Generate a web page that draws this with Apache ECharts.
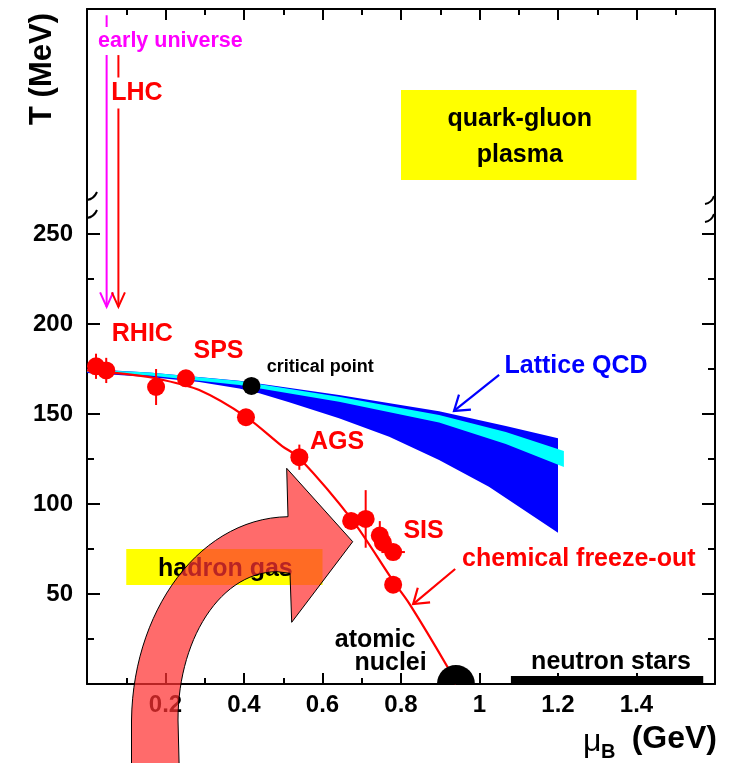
<!DOCTYPE html>
<html>
<head>
<meta charset="utf-8">
<script src="https://cdn.jsdelivr.net/npm/echarts@6/dist/echarts.min.js"></script>
<style>
  html, body { margin: 0; padding: 0; background: #fff; }
  #chart { width: 731px; height: 763px; }
</style>
</head>
<body>
<div id="chart"></div>
<script>
// ---- Axis ticks ----
const muMajorTicks = [0.2, 0.4, 0.6, 0.8, 1, 1.2, 1.4];
const muMinorTicks = [0.1, 0.3, 0.5, 0.7, 0.9, 1.1, 1.3, 1.5];
const tMajorTicks = [50, 100, 150, 200, 250];
const tMinorTicks = [25, 75, 125, 175, 225];

// ---- Chemical freeze-out points: mu_B (GeV), T (MeV), errors ----
const freezeMu    = [0.023, 0.049, 0.176, 0.252, 0.405, 0.541, 0.673, 0.710, 0.746, 0.754, 0.780, 0.780];
const freezeT     = [176.5, 174.2, 165.0, 169.8, 148.2, 126.0, 90.6, 91.7, 82.5, 78.5, 73.3, 55.2];
const freezeTErr  = [7, 7, 10, 0, 0, 7, 0, 16, 8, 5, 4, 0];
const freezeMuErr = [0, 0, 0, 0, 0, 0, 0, 0, 0.02, 0, 0.03, 0];

// ---- Freeze-out curve ----
const curveMu = [0, 0.116, 0.184, 0.286, 0.406, 0.497, 0.541, 0.676, 0.780, 0.822, 0.920, 0.940];
const curveT  = [174.2, 171.7, 169.4, 163.3, 148.3, 132.2, 125.6, 91.0, 57.2, 44.4, 8.9, 0];

// ---- Lattice QCD bands ----
const latUpperMu = [0, 0.159, 0.388, 0.642, 0.897, 1.067, 1.2];
const latUpperT  = [175.0, 173.1, 168.5, 160.6, 151.5, 143.3, 136.5];
const latLowerMu = [0, 0.159, 0.286, 0.388, 0.439, 0.515, 0.642, 0.770, 0.897, 1.024, 1.2];
const latLowerT  = [172.8, 170.6, 167.8, 164.2, 161.5, 156.5, 147.6, 137.4, 124.4, 109.6, 84.0];
const cyanMu     = [0, 0.159, 0.388, 0.642, 0.897, 1.067, 1.215];
const cyanTopT   = [174.7, 173.1, 168.3, 159.6, 149.5, 140.0, 129.5];
const cyanBotT   = [173.3, 171.4, 166.1, 156.8, 145.3, 133.3, 120.5];

// ---- Critical point, nuclei, neutron stars ----
const criticalPoint = [0.419, 165.6];
const nucleiPoint = [0.94, 0];
const neutronStarMu = [1.08, 1.57];
const neutronStarT = [0, 4.5];

// ---- Vertical arrows (early universe, LHC) ----
const vArrowMu  = [0.05, 0.08];
const vArrowTop = [371.5, 349.4];
const vArrowTip = [209.5, 209.5];

// ---- Pointer arrows (Lattice QCD, chemical freeze-out): from -> to ----
const pArrowFromMu = [1.05, 0.938];
const pArrowFromT  = [171.7, 63.9];
const pArrowToMu   = [0.935, 0.831];
const pArrowToT    = [151.7, 44.4];

// ---- Region boxes ----
const boxText = ['quark-gluon\nplasma', 'hadron gas'];
const boxMu0 = [0.8, 0.1];
const boxMu1 = [1.4, 0.6];
const boxT0  = [280, 55];
const boxT1  = [330, 75];

// ---- Text annotations ----
const annoText = ['early universe', 'LHC', 'RHIC', 'SPS', 'critical point', 'Lattice QCD',
                  'AGS', 'SIS', 'chemical freeze-out', 'atomic', 'nuclei', 'neutron stars'];
const annoMu = [0.2125, 0.127, 0.141, 0.335, 0.594, 1.246, 0.637, 0.8575, 1.253, 0.734, 0.7735, 1.335];
const annoT  = [357.2, 328.3, 194.4, 185.0, 176.1, 176.4, 134.6, 85.0, 69.4, 24.4, 11.7, 12.2];

const FONT = "'Liberation Sans', Arial, Helvetica, sans-serif";
const RED = '#ff0000', BLUE = '#0000ff', CYAN = '#00ffff', MAGENTA = '#ff00ff';

function annoStyle(name) {
  const s = { fill: '#000', size: 25, bg: null };
  if (name === 'early universe') { s.fill = MAGENTA; s.bg = '#fff'; s.size = 21.5; }
  else if (name === 'LHC') { s.fill = RED; s.bg = '#fff'; }
  else if (['RHIC', 'SPS', 'AGS', 'SIS', 'chemical freeze-out'].includes(name)) s.fill = RED;
  else if (name === 'Lattice QCD') s.fill = BLUE;
  else if (name === 'critical point') s.size = 18;
  return s;
}

function arrowHead(tip, from, len, half) {
  const a = Math.atan2(from[1] - tip[1], from[0] - tip[0]);
  return [
    [tip[0] + len * Math.cos(a + half), tip[1] + len * Math.sin(a + half)],
    tip,
    [tip[0] + len * Math.cos(a - half), tip[1] + len * Math.sin(a - half)]
  ];
}

function bandPolygon(api, muTop, tTop, muBot, tBot) {
  const pts = [];
  for (let i = 0; i < muTop.length; i++) pts.push(api.coord([muTop[i], tTop[i]]));
  for (let i = muBot.length - 1; i >= 0; i--) pts.push(api.coord([muBot[i], tBot[i]]));
  return pts;
}

// cubic bezier sampled into polygon points (screen space)
function cubic(p0, c1, c2, p1, n) {
  const out = [];
  for (let k = 1; k <= n; k++) {
    const t = k / n, u = 1 - t;
    out.push([
      u * u * u * p0[0] + 3 * u * u * t * c1[0] + 3 * u * t * t * c2[0] + t * t * t * p1[0],
      u * u * u * p0[1] + 3 * u * u * t * c1[1] + 3 * u * t * t * c2[1] + t * t * t * p1[1]
    ]);
  }
  return out;
}
const bigArrow = [[131.5, 800], [131.5, 720]]
  .concat(cubic([131.5, 720], [133, 610], [200, 518], [288, 516.7], 30))
  .concat([[286.7, 468.3], [352.7, 541.7], [291.7, 622.3], [290, 573.3], [277, 571.7]])
  .concat(cubic([277, 571.7], [220, 572], [178, 640], [178, 720], 30))
  .concat([[180, 800]]);

const axisLineStyle = { color: '#000', width: 2 };
function xAx(pos, ticks, len, withLine, withLabel) {
  return {
    type: 'value', position: pos, min: 0, max: 1.6,
    axisLine: { show: withLine, onZero: false, lineStyle: axisLineStyle },
    axisTick: { show: true, inside: true, length: len, customValues: ticks, lineStyle: axisLineStyle },
    axisLabel: withLabel ? { show: true, customValues: ticks, margin: 9, color: '#000',
      fontSize: 24, fontWeight: 'bold', fontFamily: FONT } : { show: false },
    splitLine: { show: false }
  };
}
function yAx(pos, ticks, len, withLine, withLabel) {
  return {
    type: 'value', position: pos, min: 0, max: 375,
    axisLine: { show: withLine, onZero: false, lineStyle: axisLineStyle },
    axisTick: { show: true, inside: true, length: len, customValues: ticks, lineStyle: axisLineStyle },
    axisLabel: withLabel ? { show: true, customValues: ticks, margin: 14, color: '#000',
      fontSize: 24, fontWeight: 'bold', fontFamily: FONT } : { show: false },
    splitLine: { show: false }
  };
}

const chart = echarts.init(document.getElementById('chart'));

const brk = (x1, y1, x2, y2) => ({
  type: 'bezierCurve', z: 50,
  shape: { x1: x1, y1: y1, cpx1: (x1 + x2) / 2 + 2, cpy1: (y1 + y2) / 2 + 3, x2: x2, y2: y2 },
  style: { stroke: '#000', lineWidth: 2, fill: null }
});

const option = {
  animation: false,
  backgroundColor: '#fff',
  grid: { left: 87, right: 16, top: 9, bottom: 79, containLabel: false },
  xAxis: [
    xAx('bottom', muMajorTicks, 11, true, true),
    xAx('bottom', muMinorTicks, 6, false, false),
    xAx('top', muMajorTicks, 11, true, false),
    xAx('top', muMinorTicks, 6, false, false)
  ],
  yAxis: [
    yAx('left', tMajorTicks, 13, true, true),
    yAx('left', tMinorTicks, 7, false, false),
    yAx('right', tMajorTicks, 13, true, false),
    yAx('right', tMinorTicks, 7, false, false)
  ],
  series: [
    // region boxes
    {
      type: 'custom', z: 1,
      data: boxMu0.map((m, i) => [m, boxT0[i], boxMu1[i], boxT1[i]]),
      renderItem: (params, api) => {
        const i = params.dataIndex;
        const p0 = api.coord([boxMu0[i], boxT1[i]]);
        const p1 = api.coord([boxMu1[i], boxT0[i]]);
        return {
          type: 'group',
          children: [
            { type: 'rect', shape: { x: p0[0], y: p0[1], width: p1[0] - p0[0], height: p1[1] - p0[1] },
              style: { fill: '#ffff00' } },
            { type: 'text', style: { text: boxText[i], x: (p0[0] + p1[0]) / 2 + 1, y: (p0[1] + p1[1]) / 2 + 2,
              align: 'center', verticalAlign: 'middle', fill: '#000',
              font: 'bold 25px ' + FONT, lineHeight: 36 } }
          ]
        };
      }
    },
    // Lattice QCD dark band
    {
      type: 'custom', z: 2, data: [[0, 0]],
      renderItem: (params, api) => ({
        type: 'polygon',
        shape: { points: bandPolygon(api, latUpperMu, latUpperT, latLowerMu, latLowerT) },
        style: { fill: BLUE }
      })
    },
    // Lattice QCD light band
    {
      type: 'custom', z: 3, data: [[0, 0]],
      renderItem: (params, api) => ({
        type: 'polygon',
        shape: { points: bandPolygon(api, cyanMu, cyanTopT, cyanMu, cyanBotT) },
        style: { fill: CYAN }
      })
    },
    // freeze-out curve
    {
      type: 'line', z: 4, smooth: 0.3, showSymbol: false, silent: true,
      data: curveMu.map((m, i) => [m, curveT[i]]),
      lineStyle: { color: RED, width: 2.2 }
    },
    // error bars
    {
      type: 'custom', z: 5,
      data: freezeMu.map((m, i) => [m, freezeT[i], freezeTErr[i], freezeMuErr[i]]),
      renderItem: (params, api) => {
        const mu = api.value(0), t = api.value(1), et = api.value(2), em = api.value(3);
        const kids = [];
        const st = { stroke: RED, lineWidth: 2 };
        if (et > 0) {
          const a = api.coord([mu, t + et]), b = api.coord([mu, t - et]);
          kids.push({ type: 'line', shape: { x1: a[0], y1: a[1], x2: b[0], y2: b[1] }, style: st });
        }
        if (em > 0) {
          const a = api.coord([mu - em, t]), b = api.coord([mu + em, t]);
          kids.push({ type: 'line', shape: { x1: a[0], y1: a[1], x2: b[0], y2: b[1] }, style: st });
        }
        return { type: 'group', children: kids };
      }
    },
    // freeze-out points
    {
      type: 'scatter', z: 6, symbol: 'circle', symbolSize: 18, silent: true,
      data: freezeMu.map((m, i) => [m, freezeT[i]]),
      itemStyle: { color: RED, opacity: 1 }
    },
    // critical point
    {
      type: 'scatter', z: 7, symbol: 'circle', symbolSize: 18, silent: true,
      data: [criticalPoint],
      itemStyle: { color: '#000', opacity: 1 }
    },
    // atomic nuclei (half disk on the axis)
    {
      type: 'custom', z: 7, data: [nucleiPoint],
      renderItem: (params, api) => {
        const c = api.coord([api.value(0), api.value(1)]);
        return { type: 'sector', shape: { cx: c[0], cy: c[1], r0: 0, r: 19, startAngle: Math.PI, endAngle: 2 * Math.PI, clockwise: true },
                 style: { fill: '#000' } };
      }
    },
    // neutron stars
    {
      type: 'custom', z: 7, data: [[neutronStarMu[0], neutronStarT[0], neutronStarMu[1], neutronStarT[1]]],
      renderItem: (params, api) => {
        const p0 = api.coord([api.value(0), api.value(3)]);
        const p1 = api.coord([api.value(2), api.value(1)]);
        return { type: 'rect', shape: { x: p0[0], y: p0[1], width: p1[0] - p0[0], height: p1[1] - p0[1] + 1 },
                 style: { fill: '#000' } };
      }
    },
    // vertical arrows (early universe, LHC)
    {
      type: 'custom', z: 8,
      data: vArrowMu.map((m, i) => [m, vArrowTop[i], vArrowTip[i]]),
      renderItem: (params, api) => {
        const col = params.dataIndex === 0 ? MAGENTA : RED;
        const top = api.coord([api.value(0), api.value(1)]);
        const tip = api.coord([api.value(0), api.value(2)]);
        const st = { stroke: col, lineWidth: 2, fill: null };
        return { type: 'group', children: [
          { type: 'line', shape: { x1: top[0], y1: top[1], x2: tip[0], y2: tip[1] }, style: st },
          { type: 'polyline', shape: { points: arrowHead(tip, top, 16, 0.42) }, style: st }
        ] };
      }
    },
    // pointer arrows
    {
      type: 'custom', z: 8,
      data: pArrowFromMu.map((m, i) => [m, pArrowFromT[i], pArrowToMu[i], pArrowToT[i]]),
      renderItem: (params, api) => {
        const col = params.dataIndex === 0 ? BLUE : RED;
        const from = api.coord([api.value(0), api.value(1)]);
        const tip = api.coord([api.value(2), api.value(3)]);
        const st = { stroke: col, lineWidth: 2.2, fill: null };
        return { type: 'group', children: [
          { type: 'line', shape: { x1: from[0], y1: from[1], x2: tip[0], y2: tip[1] }, style: st },
          { type: 'polyline', shape: { points: arrowHead(tip, from, 17, 0.6) }, style: st }
        ] };
      }
    },
    // text annotations
    {
      type: 'custom', z: 9,
      data: annoMu.map((m, i) => [m, annoT[i]]),
      renderItem: (params, api) => {
        const name = annoText[params.dataIndex];
        const s = annoStyle(name);
        const p = api.coord([api.value(0), api.value(1)]);
        const style = { text: name, x: p[0], y: p[1], align: 'center', verticalAlign: 'middle',
                        fill: s.fill, font: 'bold ' + s.size + 'px ' + FONT };
        if (s.bg) { style.backgroundColor = s.bg; style.padding = [3, 2]; }
        return { type: 'text', style: style };
      }
    }
  ],
  graphic: [
    // axis titles
    { type: 'text', x: 42, y: 69, rotation: Math.PI / 2, z: 50,
      style: { text: 'T (MeV)', align: 'center', verticalAlign: 'middle', fill: '#000', font: 'bold 31px ' + FONT } },
    { type: 'text', x: 583, y: 742, z: 50,
      style: { text: 'μ', align: 'left', verticalAlign: 'middle', fill: '#000', font: '32px ' + FONT } },
    { type: 'text', x: 601, y: 752, z: 50,
      style: { text: 'B', align: 'left', verticalAlign: 'middle', fill: '#000', font: 'bold 20px ' + FONT } },
    { type: 'text', x: 717, y: 739, z: 50,
      style: { text: '(GeV)', align: 'right', verticalAlign: 'middle', fill: '#000', font: 'bold 32px ' + FONT } },
    // axis break marks
    brk(87, 200, 97, 192), brk(87, 218, 97, 210),
    brk(705, 204, 714, 196), brk(705, 222, 714, 214),
    // big curved arrow overlay
    { type: 'polygon', z: 100,
      shape: { points: bigArrow },
      style: { fill: 'rgba(255,50,50,0.72)', stroke: '#000', lineWidth: 1 } }
  ]
};

chart.setOption(option);
</script>
</body>
</html>
